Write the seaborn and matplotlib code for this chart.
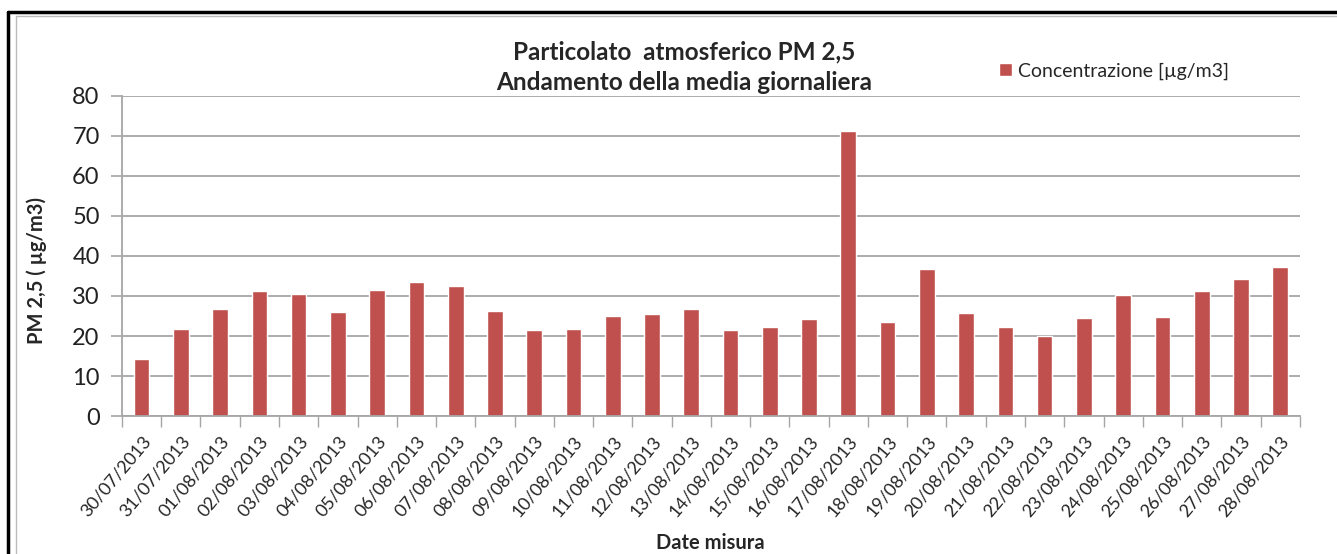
import numpy as np
import pandas as pd
import matplotlib.pyplot as plt
from matplotlib.lines import Line2D
import seaborn as sns

# --- data ---
dates = ['30/07/2013', '31/07/2013', '01/08/2013', '02/08/2013', '03/08/2013',
         '04/08/2013', '05/08/2013', '06/08/2013', '07/08/2013', '08/08/2013',
         '09/08/2013', '10/08/2013', '11/08/2013', '12/08/2013', '13/08/2013',
         '14/08/2013', '15/08/2013', '16/08/2013', '17/08/2013', '18/08/2013',
         '19/08/2013', '20/08/2013', '21/08/2013', '22/08/2013', '23/08/2013',
         '24/08/2013', '25/08/2013', '26/08/2013', '27/08/2013', '28/08/2013']
concentrazione = [14.2, 21.7, 26.7, 31.2, 30.5, 26.0, 31.5, 33.5, 32.6, 26.3,
                  21.4, 21.7, 25.1, 25.4, 26.7, 21.5, 22.2, 24.2, 71.1, 23.4,
                  36.8, 25.7, 22.2, 20.1, 24.4, 30.2, 24.7, 31.2, 34.2, 37.2]
y_ticks = [0, 10, 20, 30, 40, 50, 60, 70, 80]

df = pd.DataFrame({'Data': dates, 'Concentrazione': concentrazione})

sns.set_style('white')
plt.rcParams['font.family'] = ['Lato', 'DejaVu Sans']

fig = plt.figure(figsize=(13.37, 5.54), dpi=100)
ax = fig.add_axes([0.0912, 0.249, 0.881, 0.578])

sns.barplot(data=df, x='Data', y='Concentrazione', color='#C0504D', saturation=1,
            width=0.4, label='Concentrazione [µg/m3]', ax=ax)

# --- axes styling (Excel look) ---
grid_col = '#A6A6A6'
ax.set_ylim(0, 80)
ax.set_yticks(y_ticks)
ax.set_xlim(-0.5, len(dates) - 0.5)
ax.yaxis.grid(True, color=grid_col, linewidth=1.3)
ax.set_axisbelow(True)
for s in ['top', 'right']:
    ax.spines[s].set_visible(False)
for s in ['left', 'bottom']:
    ax.spines[s].set_color(grid_col)
    ax.spines[s].set_linewidth(1.3)

ax.tick_params(axis='y', which='major', left=True, length=8, width=1.2, color=grid_col,
               labelsize=17, pad=8, labelcolor='#222222')
ax.set_xticks(np.arange(-0.5, len(dates), 1), minor=True)
ax.tick_params(axis='x', which='minor', bottom=True, length=8, width=1.0, color=grid_col)
ax.tick_params(axis='x', which='major', bottom=False, length=0, labelsize=13, pad=12)
plt.setp(ax.get_xticklabels(), rotation=50, ha='right', rotation_mode='anchor')

ax.set_xlabel('')
ax.set_ylabel('PM 2,5 ( µg/m3)', fontsize=14.5, fontweight='bold')
ax.yaxis.set_label_coords(-0.064, 0.456)
fig.text(710 / 1337, 1 - 543 / 554, 'Date misura', ha='center', va='center',
         fontsize=14.5, fontweight='bold')

# --- title and legend ---
fig.text(0.512, 0.879, 'Particolato  atmosferico PM 2,5\nAndamento della media giornaliera',
         ha='center', va='center', fontsize=17.5, fontweight='bold', linespacing=1.4)
leg = ax.legend(loc='center left', bbox_to_anchor=(0.734, 0.872), bbox_transform=fig.transFigure,
                frameon=False, fontsize=14, handlelength=0.7, handleheight=0.7, handletextpad=0.3)

# --- outer border like the source screenshot ---
fig.add_artist(Line2D([0.006, 1.0], [0.978, 0.978], color='black', linewidth=2.5, transform=fig.transFigure))
fig.add_artist(Line2D([0.006, 0.006], [0.0, 0.978], color='black', linewidth=2.5, transform=fig.transFigure))
fig.add_artist(Line2D([0.012, 1.0], [0.972, 0.972], color='#BBBBBB', linewidth=1, transform=fig.transFigure))
fig.add_artist(Line2D([0.012, 0.012], [0.0, 0.972], color='#BBBBBB', linewidth=1, transform=fig.transFigure))

fig.savefig('out.png', dpi=100)
